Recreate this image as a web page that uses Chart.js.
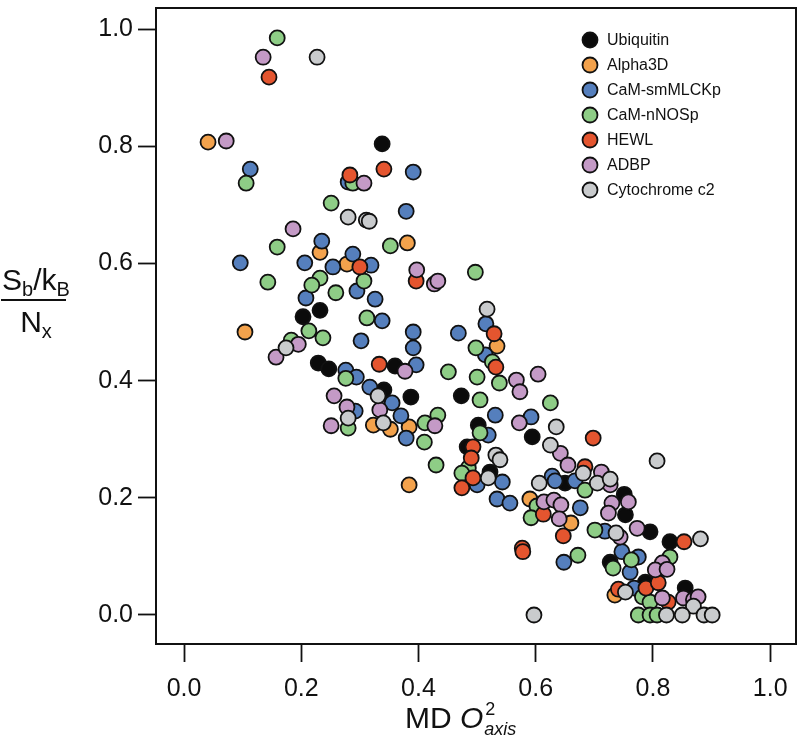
<!DOCTYPE html>
<html><head><meta charset="utf-8">
<script src="https://cdn.jsdelivr.net/npm/chart.js@4/dist/chart.umd.min.js"></script>
<style>html,body{margin:0;padding:0;background:#fff}#wrap{width:800px;height:737px}</style>
</head><body><div id="wrap"><canvas id="c" width="800" height="737"></canvas></div>
<script>
const seriesNames = ["Ubiquitin","Alpha3D","CaM-smMLCKp","CaM-nNOSp","HEWL","ADBP","Cytochrome c2"];
const seriesColors = ["#0b0b0b","#f3a24c","#557fbd","#8ecd86","#e4552f","#c49ac6","#c9cbcd"];

const ubiquitin = [[0.338,0.804],[0.232,0.520],[0.203,0.509],[0.229,0.430],[0.247,0.420],[0.360,0.425],[0.341,0.384],[0.387,0.372],[0.473,0.374],[0.502,0.324],[0.594,0.304],[0.483,0.287],[0.522,0.244],[0.650,0.225],[0.751,0.206],[0.753,0.171],[0.795,0.142],[0.829,0.125],[0.727,0.090],[0.787,0.056],[0.855,0.046]];
const alpha3d = [[0.041,0.807],[0.232,0.619],[0.278,0.599],[0.381,0.635],[0.104,0.483],[0.534,0.459],[0.323,0.324],[0.352,0.317],[0.384,0.321],[0.384,0.222],[0.590,0.198],[0.660,0.157],[0.735,0.034]];
const camSmMLCKp = [[0.113,0.761],[0.391,0.756],[0.379,0.689],[0.280,0.739],[0.235,0.638],[0.096,0.601],[0.206,0.601],[0.288,0.616],[0.254,0.594],[0.319,0.597],[0.295,0.553],[0.208,0.541],[0.326,0.539],[0.338,0.502],[0.302,0.468],[0.276,0.418],[0.294,0.406],[0.317,0.389],[0.391,0.483],[0.391,0.456],[0.396,0.427],[0.468,0.481],[0.515,0.497],[0.514,0.444],[0.355,0.362],[0.370,0.340],[0.292,0.348],[0.379,0.302],[0.531,0.341],[0.592,0.338],[0.519,0.307],[0.500,0.222],[0.543,0.227],[0.534,0.198],[0.556,0.191],[0.628,0.237],[0.633,0.229],[0.667,0.229],[0.676,0.183],[0.648,0.090],[0.718,0.143],[0.747,0.108],[0.775,0.099],[0.761,0.073],[0.768,0.046]];
const camNNOSp = [[0.159,0.985],[0.106,0.737],[0.288,0.737],[0.251,0.703],[0.159,0.628],[0.352,0.630],[0.143,0.568],[0.232,0.575],[0.218,0.563],[0.307,0.570],[0.259,0.550],[0.497,0.585],[0.312,0.507],[0.213,0.485],[0.237,0.473],[0.183,0.469],[0.276,0.404],[0.280,0.319],[0.498,0.456],[0.526,0.432],[0.451,0.415],[0.500,0.406],[0.538,0.396],[0.505,0.367],[0.625,0.362],[0.433,0.341],[0.411,0.328],[0.505,0.311],[0.410,0.295],[0.430,0.256],[0.485,0.251],[0.474,0.242],[0.602,0.186],[0.592,0.166],[0.684,0.213],[0.672,0.102],[0.701,0.145],[0.732,0.080],[0.763,0.094],[0.829,0.099],[0.782,0.031],[0.795,0.022],[0.775,0.000],[0.795,0.000],[0.807,0.000]];
const hewl = [[0.145,0.918],[0.341,0.761],[0.283,0.751],[0.300,0.594],[0.396,0.570],[0.529,0.480],[0.532,0.423],[0.333,0.428],[0.493,0.287],[0.490,0.268],[0.493,0.234],[0.474,0.217],[0.613,0.172],[0.647,0.135],[0.577,0.114],[0.578,0.108],[0.698,0.302],[0.684,0.253],[0.853,0.125],[0.741,0.044],[0.788,0.046],[0.809,0.055],[0.826,0.022]];
const adbp = [[0.135,0.952],[0.072,0.809],[0.307,0.737],[0.186,0.659],[0.397,0.589],[0.427,0.565],[0.433,0.570],[0.195,0.462],[0.157,0.440],[0.256,0.374],[0.278,0.355],[0.251,0.323],[0.377,0.416],[0.567,0.401],[0.573,0.381],[0.604,0.411],[0.334,0.350],[0.428,0.323],[0.572,0.328],[0.642,0.276],[0.655,0.256],[0.614,0.193],[0.631,0.196],[0.643,0.188],[0.640,0.164],[0.712,0.244],[0.727,0.222],[0.730,0.191],[0.758,0.193],[0.724,0.174],[0.773,0.148],[0.744,0.133],[0.816,0.089],[0.804,0.077],[0.824,0.078],[0.816,0.029],[0.852,0.029],[0.869,0.026],[0.877,0.031]];
const cytochromeC2 = [[0.227,0.952],[0.280,0.679],[0.311,0.674],[0.316,0.672],[0.174,0.456],[0.517,0.522],[0.331,0.374],[0.280,0.336],[0.340,0.328],[0.635,0.321],[0.625,0.290],[0.532,0.273],[0.539,0.265],[0.519,0.234],[0.606,0.225],[0.681,0.242],[0.705,0.225],[0.727,0.232],[0.807,0.263],[0.737,0.140],[0.753,0.039],[0.881,0.130],[0.869,0.015],[0.597,0.000],[0.823,0.000],[0.850,0.000],[0.887,0.000],[0.901,0.000]];

const xTickValues = [0.0,0.2,0.4,0.6,0.8,1.0];
const yTickValues = [0.0,0.2,0.4,0.6,0.8,1.0];

const allSeries = [ubiquitin, alpha3d, camSmMLCKp, camNNOSp, hewl, adbp, cytochromeC2];
const FONT = '"Liberation Sans", Arial, Helvetica, sans-serif';
const INK = '#111111';

const datasets = allSeries.map((pts, i) => ({
  label: seriesNames[i],
  data: pts.map(p => ({x: p[0], y: p[1]})),
  backgroundColor: seriesColors[i],
  borderColor: INK,
  pointRadius: 7.5,
  pointBorderWidth: 1.8,
  pointHoverRadius: 7.5,
  order: allSeries.length - i
}));

const decorPlugin = {
  id: 'decor',
  afterDraw(chart) {
    const ctx = chart.ctx, a = chart.chartArea;
    ctx.save();
    ctx.strokeStyle = INK; ctx.lineWidth = 2;
    ctx.strokeRect(a.left, a.top, a.right - a.left, a.bottom - a.top);
    // legend
    ctx.font = '16px ' + FONT; ctx.textBaseline = 'middle'; ctx.textAlign = 'left';
    chart.data.datasets.forEach((ds, i) => {
      const cy = 40 + i * 25;
      ctx.beginPath(); ctx.arc(590, cy, 7.5, 0, Math.PI * 2);
      ctx.fillStyle = ds.backgroundColor; ctx.fill();
      ctx.lineWidth = 1.8; ctx.strokeStyle = INK; ctx.stroke();
      ctx.fillStyle = INK; ctx.fillText(ds.label, 607, cy + 1);
    });
    // y title: fraction
    ctx.textBaseline = 'alphabetic';
    const big = '30px ' + FONT, small = '20px ' + FONT;
    const parts = [['S', big, 0], ['b', small, 6], ['/', big, 0], ['k', big, 0], ['B', small, 6]];
    let w = 0;
    parts.forEach(p => { ctx.font = p[1]; w += ctx.measureText(p[0]).width; });
    const cx = 36;
    let x = cx - w / 2;
    parts.forEach(p => { ctx.font = p[1]; ctx.fillText(p[0], x, 290 + p[2]); x += ctx.measureText(p[0]).width; });
    ctx.fillRect(1, 299, 65, 2);
    ctx.font = big; const wN = ctx.measureText('N').width;
    ctx.font = small; const wx = ctx.measureText('x').width;
    let xd = cx - (wN + wx) / 2;
    ctx.font = big; ctx.fillText('N', xd, 332);
    ctx.font = small; ctx.fillText('x', xd + wN, 338);
    // x title
    const f1 = '30px ' + FONT, f2 = 'italic 30px ' + FONT, f3 = '18px ' + FONT, f4 = 'italic 18px ' + FONT;
    ctx.font = f1; const wMD = ctx.measureText('MD ').width;
    ctx.font = f2; const wO = ctx.measureText('O').width;
    let tx = 405;
    const by = 728;
    ctx.font = f1; ctx.fillText('MD ', tx, by); tx += wMD;
    ctx.font = f2; ctx.fillText('O', tx, by); tx += wO + 2;
    ctx.font = f3; ctx.fillText('2', tx, by - 13);
    ctx.font = f4; ctx.fillText('axis', tx - 1, by + 7);
    ctx.restore();
  }
};

const axisCommon = {
  type: 'linear',
  ticks: { font: { size: 25, family: FONT }, color: INK, maxRotation: 0, autoSkip: false,
           callback: v => Number(v).toFixed(1) },
  grid: { display: true, drawOnChartArea: false, drawTicks: true, tickLength: 18, tickWidth: 1.8, tickColor: INK },
  border: { display: true, color: INK, width: 2 }
};
function zeroPad(s) { s.paddingLeft = 0; s.paddingRight = 0; s.paddingTop = 0; s.paddingBottom = 0; }

new Chart(document.getElementById('c'), {
  type: 'scatter',
  data: { datasets },
  options: {
    responsive: false, animation: false, devicePixelRatio: 1,
    layout: { autoPadding: false, padding: { top: 8, right: 4, left: 0, bottom: 0 } },
    plugins: { legend: { display: false }, tooltip: { enabled: false } },
    events: [],
    scales: {
      x: Object.assign({}, axisCommon, {
        min: -0.0478, max: 1.044,
        ticks: Object.assign({}, axisCommon.ticks, { padding: 12 }),
        afterBuildTicks: s => { s.ticks = xTickValues.map(v => ({ value: v })); },
        afterFit: s => { s.height = 93; zeroPad(s); }
      }),
      y: Object.assign({}, axisCommon, {
        min: -0.0495, max: 1.036,
        ticks: Object.assign({}, axisCommon.ticks, { padding: 5 }),
        afterBuildTicks: s => { s.ticks = yTickValues.map(v => ({ value: v })); },
        afterFit: s => { s.width = 156; zeroPad(s); }
      })
    }
  },
  plugins: [decorPlugin]
});
</script></body></html>
